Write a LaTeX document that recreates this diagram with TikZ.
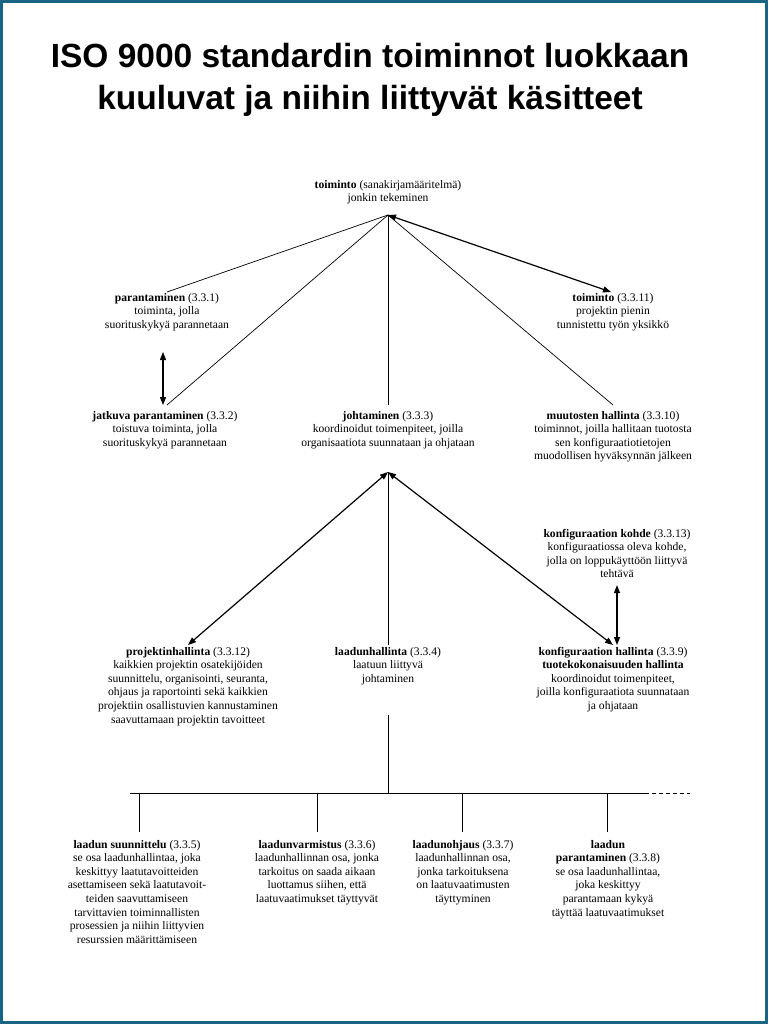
\documentclass[tikz,border=0pt]{standalone}
\usepackage{fontspec}
\setmainfont{Liberation Serif}
\newfontfamily\titlefont{Liberation Sans}
\usetikzlibrary{arrows.meta}
\definecolor{framecol}{HTML}{1A6585}
\tikzset{
  lbl/.style={align=center, anchor=north, inner sep=0pt, outer sep=0pt,
    font=\fontsize{11.6}{13.6}\selectfont},
  thin/.style={line width=0.7pt},
  dbl/.style={line width=1.2pt, {Triangle[length=8pt,width=6pt]}-{Triangle[length=8pt,width=6pt]}},
}
\begin{document}
\begin{tikzpicture}[x=1pt,y=-1pt]
\useasboundingbox (0,0) rectangle (768,1024);
\fill[white] (0,0) rectangle (768,1024);
\draw[framecol, line width=3pt] (1.5,1.5) rectangle (766.5,1022.5);

\node[font=\titlefont\bfseries\fontsize{33.5}{42}\selectfont, align=center] (title) at (370,80)
  {ISO 9000 standardin toiminnot luokkaan\\kuuluvat ja niihin liittyvät käsitteet};

\node[lbl] (top) at (388,180) {\textbf{toiminto} (sanakirjamääritelmä)\\jonkin tekeminen};
\coordinate (apex) at (388,215);

\node[lbl] (par) at (167,293) {\textbf{parantaminen} (3.3.1)\\toiminta, jolla\\suorituskykyä parannetaan};
\node[lbl] (toi) at (613,293) {\textbf{toiminto} (3.3.11)\\projektin pienin\\tunnistettu työn yksikkö};

\node[lbl] (jat) at (165,411) {\textbf{jatkuva parantaminen} (3.3.2)\\toistuva toiminta, jolla\\suorituskykyä parannetaan};
\node[lbl] (joh) at (388,411) {\textbf{johtaminen} (3.3.3)\\koordinoidut toimenpiteet, joilla\\organisaatiota suunnataan ja ohjataan};
\node[lbl] (muu) at (613,411) {\textbf{muutosten hallinta} (3.3.10)\\toiminnot, joilla hallitaan tuotosta\\sen konfiguraatiotietojen\\muodollisen hyväksynnän jälkeen};
\coordinate (apex2) at (388,472);

\node[lbl] (kko) at (617,529) {\textbf{konfiguraation kohde} (3.3.13)\\konfiguraatiossa oleva kohde,\\jolla on loppukäyttöön liittyvä\\tehtävä};

\node[lbl] (pro) at (188,647) {\textbf{projektinhallinta} (3.3.12)\\kaikkien projektin osatekijöiden\\suunnittelu, organisointi, seuranta,\\ohjaus ja raportointi sekä kaikkien\\projektiin osallistuvien kannustaminen\\saavuttamaan projektin tavoitteet};
\node[lbl] (lh) at (388,647) {\textbf{laadunhallinta} (3.3.4)\\laatuun liittyvä\\johtaminen};
\node[lbl] (kha) at (613,647) {\textbf{konfiguraation hallinta} (3.3.9)\\\textbf{tuotekokonaisuuden hallinta}\\koordinoidut toimenpiteet,\\joilla konfiguraatiota suunnataan\\ja ohjataan};

\coordinate (lhb) at (388,715);
\coordinate (barL) at (130,793);
\coordinate (barM) at (388,793);
\coordinate (barR) at (645,793);
\coordinate (barE) at (690,793);
\coordinate (d1) at (139,793);
\coordinate (d2) at (317,793);
\coordinate (d3) at (462,793);
\coordinate (d4) at (607,793);

\node[lbl] (ls) at (137,840) {\textbf{laadun suunnittelu} (3.3.5)\\se osa laadunhallintaa, joka\\keskittyy laatutavoitteiden\\asettamiseen sekä laatutavoit-\\teiden saavuttamiseen\\tarvittavien toiminnallisten\\prosessien ja niihin liittyvien\\resurssien määrittämiseen};
\node[lbl] (lv) at (317,840) {\textbf{laadunvarmistus} (3.3.6)\\laadunhallinnan osa, jonka\\tarkoitus on saada aikaan\\luottamus siihen, että\\laatuvaatimukset täyttyvät};
\node[lbl] (lo) at (463,840) {\textbf{laadunohjaus} (3.3.7)\\laadunhallinnan osa,\\jonka tarkoituksena\\on laatuvaatimusten\\täyttyminen};
\node[lbl] (lp) at (608,840) {\textbf{laadun}\\\textbf{parantaminen} (3.3.8)\\se osa laadunhallintaa,\\joka keskittyy\\parantamaan kykyä\\täyttää laatuvaatimukset};

% upper connectors
\draw[thin] (apex) -- ([shift={(0,-1)}]par.north);
\draw[thin] (apex) -- ([shift={(2,-6)}]jat.north);
\draw[thin] (apex) -- ([shift={(0,-6)}]joh.north);
\draw[thin] (apex) -- ([shift={(0,-6)}]muu.north);
\draw[dbl] (apex) -- ([shift={(-2,-1)}]toi.north);
\draw[dbl] ([shift={(-2,-59)}]jat.north) -- ([shift={(-2,-6)}]jat.north);

% middle connectors
\draw[thin] (joh.south |- apex2) -- (apex2);
\draw[dbl] (apex2) -- ([shift={(0,-2)}]pro.north);
\draw[thin] (apex2) -- ([shift={(0,-2)}]lh.north);
\draw[dbl] (apex2) -- ([shift={(0,-2)}]kha.north);
\draw[dbl] ([shift={(0,7)}]kko.south) -- ([shift={(4,-2)}]kha.north);

% lower tree
\draw[thin] (lhb) -- (barM);
\draw[line width=0.9pt] (barL) -- (barR);
\draw[line width=0.9pt, dash pattern=on 4pt off 3pt] (barR) -- (barE);
\draw[thin] (d1) -- ([shift={(2,-8)}]ls.north);
\draw[thin] (d2) -- ([shift={(0,-8)}]lv.north);
\draw[thin] (d3) -- ([shift={(-1,-8)}]lo.north);
\draw[thin] (d4) -- ([shift={(-1,-8)}]lp.north);
\end{tikzpicture}
\end{document}
